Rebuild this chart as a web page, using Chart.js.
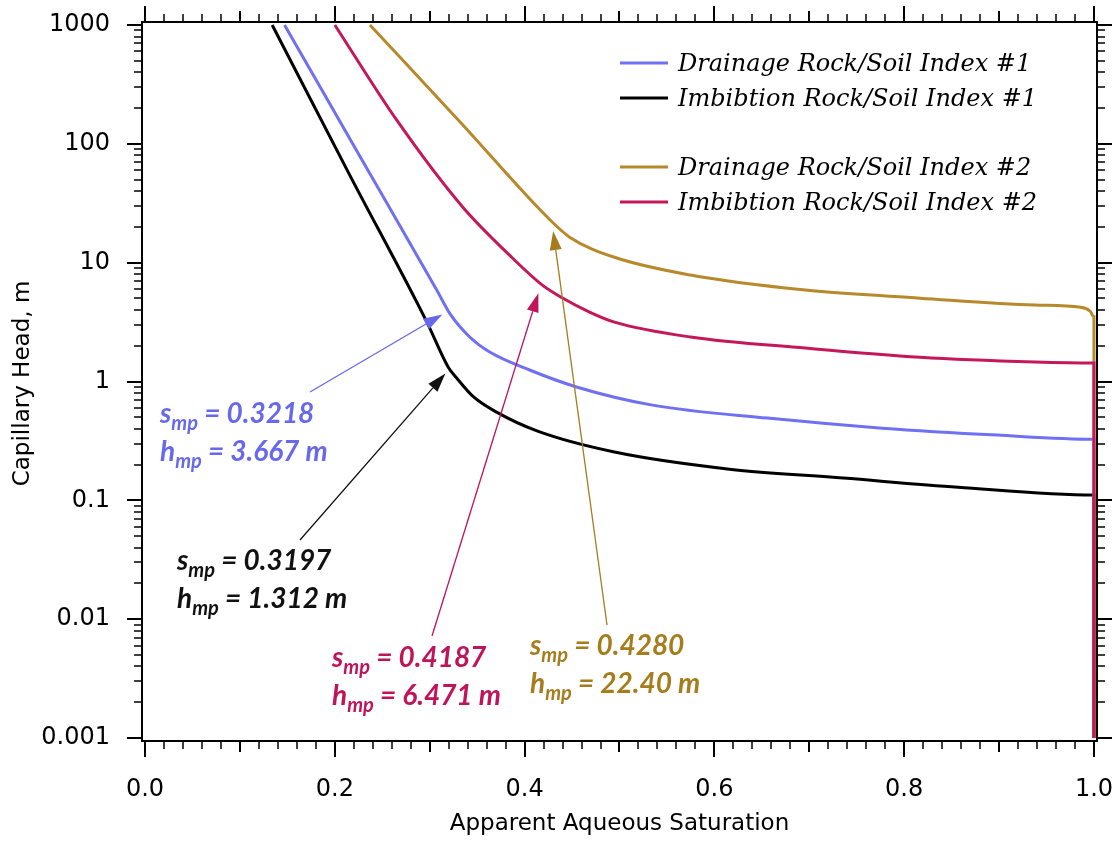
<!DOCTYPE html>
<html lang="en">
<head>
<meta charset="UTF-8">
<title>Capillary Head vs Apparent Aqueous Saturation</title>
<script src="https://cdn.jsdelivr.net/npm/chart.js"></script>
<style>
  html, body { margin: 0; padding: 0; background: #fff; }
  canvas { display: block; }
</style>
</head>
<body>
<canvas id="capChart" width="1117" height="841"></canvas>
<script>
// saturation (s) and capillary head (h, m) for each curve
const drain1S = [0.147, 0.227, 0.3074, 0.3218, 0.3421, 0.3632, 0.4053, 0.4547, 0.5347, 0.6558, 0.7768, 0.8979, 1.000, 1.000];
const drain1H = [1000, 77, 5.88, 3.667, 2.37, 1.77, 1.25, 0.90, 0.633, 0.492, 0.405, 0.354, 0.327, 0.001];

const imb1S = [0.134, 0.216, 0.297, 0.3197, 0.3284, 0.3453, 0.3705, 0.4137, 0.4947, 0.6158, 0.7358, 0.8568, 1.000, 1.000];
const imb1H = [1000, 54, 3.16, 1.312, 1.07, 0.753, 0.552, 0.382, 0.255, 0.183, 0.154, 0.129, 0.111, 0.001];

const drain2S = [0.237, 0.333, 0.428, 0.4474, 0.4947, 0.5747, 0.6958, 0.8168, 0.9379, 0.986, 0.996, 1.000, 1.000];
const drain2H = [1000, 150, 22.4, 16.4, 11.1, 7.87, 5.88, 5.03, 4.4, 4.22, 3.9, 3.5, 0.001];

const imb2S = [0.200, 0.2653, 0.3347, 0.3874, 0.4187, 0.440, 0.4684, 0.4947, 0.5747, 0.6958, 0.8168, 0.9379, 1.000, 1.000];
const imb2H = [1000, 158, 29.4, 10.9, 6.471, 5.04, 3.84, 3.16, 2.37, 1.91, 1.60, 1.46, 1.43, 0.001];

const seriesNames = ['Drainage Rock/Soil Index #1', 'Imbibtion Rock/Soil Index #1', 'Drainage Rock/Soil Index #2', 'Imbibtion Rock/Soil Index #2'];

// matching points, same order as seriesNames
const mpS = [0.3218, 0.3197, 0.4280, 0.4187];
const mpH = [3.667, 1.312, 22.40, 6.471];
const mpSText = ['0.3218', '0.3197', '0.4280', '0.4187'];
const mpHText = ['3.667', '1.312', '22.40', '6.471'];

const xTickValues = [0, 0.2, 0.4, 0.6, 0.8, 1.0];
const xTickLabels = ['0.0', '0.2', '0.4', '0.6', '0.8', '1.0'];
const yTickValues = [0.001, 0.01, 0.1, 1, 10, 100, 1000];
const yTickLabels = ['0.001', '0.01', '0.1', '1', '10', '100', '1000'];

const lineColors = ['#7070f2', '#000000', '#b8892b', '#c4185a'];
const textColors = ['#6868ea', '#111111', '#a67c1c', '#c0145a'];

// text block and arrow tail in px, arrow tip offset from the matching point
const noteLayout = [
    { x: 160, y: 423, tail: [310, 392], tip: [-8, 0] },
    { x: 177, y: 570, tail: [300, 540], tip: [-3, 6] },
    { x: 530, y: 655, tail: [607, 625], tip: [2, 10] },
    { x: 332, y: 667, tail: [432, 636], tip: [-4, 8] }
];

function toPoints(s, h) {
    return s.map((v, i) => ({ x: v, y: h[i] }));
}

function line(ctx, x1, y1, x2, y2) {
    ctx.beginPath();
    ctx.moveTo(x1, y1);
    ctx.lineTo(x2, y2);
    ctx.stroke();
}

// frame with ticks on all four sides, pointing outwards
const frameTicks = {
    id: 'frameTicks',
    afterDatasetsDraw(chart) {
        const { ctx, chartArea: a, scales: { x, y } } = chart;
        ctx.save();
        ctx.strokeStyle = '#000';
        ctx.lineWidth = 2;
        ctx.strokeRect(a.left, a.top, a.right - a.left, a.bottom - a.top);
        for (let i = 0; i <= 50; i++) {
            const px = Math.round(x.getPixelForValue(i / 50));
            const len = i % 10 === 0 ? 16 : (i % 5 === 0 ? 11 : 8);
            ctx.lineWidth = i % 5 === 0 ? 2 : 1.5;
            line(ctx, px, a.bottom, px, a.bottom + len);
            line(ctx, px, a.top, px, a.top - len);
        }
        for (let d = -3; d <= 3; d++) {
            for (let k = 1; k <= 9; k++) {
                if (d === 3 && k > 1) break;
                const py = Math.round(y.getPixelForValue(k * Math.pow(10, d)));
                const len = k === 1 ? 15 : 8;
                ctx.lineWidth = k === 1 ? 2 : 1.5;
                line(ctx, a.left, py, a.left - len, py);
                line(ctx, a.right, py, a.right + len, py);
            }
        }
        // y axis title
        ctx.translate(23, (a.top + a.bottom) / 2 + 2);
        ctx.rotate(-Math.PI / 2);
        ctx.fillStyle = '#000';
        ctx.font = '23px "DejaVu Sans"';
        ctx.textAlign = 'center';
        ctx.textBaseline = 'middle';
        ctx.fillText('Capillary Head, m', 0, 0);
        ctx.restore();
    }
};

function drawSub(ctx, x, y, main, sub, rest, size) {
    ctx.font = `italic bold ${size}px Lato`;
    ctx.fillText(main, x, y);
    x += ctx.measureText(main).width;
    ctx.font = `italic bold ${Math.round(size * 0.72)}px Lato`;
    ctx.fillText(sub, x, y + size * 0.25);
    x += ctx.measureText(sub).width;
    ctx.font = `italic bold ${size}px Lato`;
    ctx.fillText(rest, x, y);
}

function arrow(ctx, x1, y1, x2, y2) {
    const ang = Math.atan2(y2 - y1, x2 - x1);
    const len = 19, half = 6;
    const bx = x2 - len * Math.cos(ang), by = y2 - len * Math.sin(ang);
    line(ctx, x1, y1, bx, by);
    ctx.beginPath();
    ctx.moveTo(x2, y2);
    ctx.lineTo(bx - half * Math.sin(ang), by + half * Math.cos(ang));
    ctx.lineTo(bx + half * Math.sin(ang), by - half * Math.cos(ang));
    ctx.closePath();
    ctx.fill();
}

const notes = {
    id: 'notes',
    afterDraw(chart) {
        const { ctx, scales: { x, y } } = chart;
        ctx.save();
        // legend
        const rows = [63, 98, 167, 202];
        ctx.textBaseline = 'middle';
        rows.forEach((ry, i) => {
            ctx.strokeStyle = lineColors[i];
            ctx.lineWidth = 3;
            line(ctx, 620, ry, 668, ry);
            ctx.fillStyle = '#000';
            ctx.font = 'italic 24px "DejaVu Serif"';
            ctx.fillText(seriesNames[i], 678, ry + 2);
        });
        // matching point callouts
        ctx.textBaseline = 'alphabetic';
        noteLayout.forEach((n, i) => {
            ctx.fillStyle = textColors[i];
            ctx.strokeStyle = textColors[i];
            ctx.lineWidth = 1.3;
            const tx = x.getPixelForValue(mpS[i]) + n.tip[0];
            const ty = y.getPixelForValue(mpH[i]) + n.tip[1];
            arrow(ctx, n.tail[0], n.tail[1], tx, ty);
            drawSub(ctx, n.x, n.y, 's', 'mp', ' = ' + mpSText[i], 28);
            drawSub(ctx, n.x, n.y + 38, 'h', 'mp', ' = ' + mpHText[i] + ' m', 28);
        });
        ctx.restore();
    }
};

const datasets = [
    { s: drain1S, h: drain1H, order: 4 },
    { s: imb1S, h: imb1H, order: 3 },
    { s: drain2S, h: drain2H, order: 2 },
    { s: imb2S, h: imb2H, order: 1 }
].map((d, i) => ({
    label: seriesNames[i],
    data: toPoints(d.s, d.h),
    order: d.order,
    showLine: true,
    borderColor: lineColors[i],
    backgroundColor: lineColors[i],
    borderWidth: 3,
    pointRadius: 0,
    cubicInterpolationMode: 'monotone'
}));

const tickFont = { family: '"DejaVu Sans"', size: 24 };

new Chart(document.getElementById('capChart'), {
    type: 'scatter',
    data: { datasets },
    options: {
        responsive: false,
        animation: false,
        layout: { padding: { top: 22, right: 20, left: 0, bottom: 0 } },
        plugins: { legend: { display: false }, tooltip: { enabled: false } },
        scales: {
            x: {
                type: 'linear',
                min: -0.0032,
                max: 1.0032,
                grid: { display: false, drawTicks: false },
                border: { display: false },
                ticks: { font: tickFont, color: '#000', padding: 34, maxRotation: 0, autoSkip: false,
                    callback: (v, i) => xTickLabels[i] },
                afterBuildTicks: s => { s.ticks = xTickValues.map(v => ({ value: v })); },
                afterFit: s => { s.height = 100; s.paddingLeft = 0; s.paddingRight = 0; },
                title: { display: true, text: 'Apparent Aqueous Saturation', color: '#000',
                    font: { family: '"DejaVu Sans"', size: 23 }, padding: { top: 0, bottom: 3 } }
            },
            y: {
                type: 'logarithmic',
                min: 0.000944,
                max: 1059.7,
                grid: { display: false, drawTicks: false },
                border: { display: false },
                ticks: { font: tickFont, color: '#000', padding: 32, autoSkip: false,
                    callback: (v, i) => yTickLabels[i] },
                afterBuildTicks: s => { s.ticks = yTickValues.map(v => ({ value: v })); },
                afterFit: s => { s.width = 142; s.paddingTop = 0; s.paddingBottom = 0; },
                title: { display: false }
            }
        }
    },
    plugins: [frameTicks, notes]
});
</script>
</body>
</html>
